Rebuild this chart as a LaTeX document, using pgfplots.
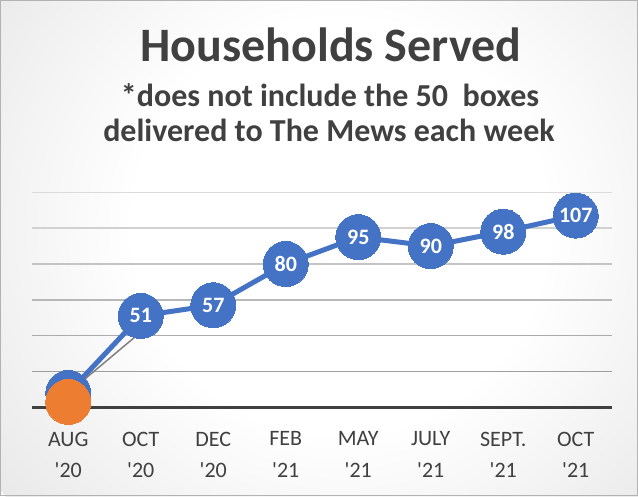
\documentclass[border=0pt]{standalone}
\usepackage{pgfplots}
\pgfplotsset{compat=1.18}
\usepackage{fontspec}
\setmainfont{Carlito}
\definecolor{txt}{HTML}{404040}
\definecolor{bl}{HTML}{4472C4}
\definecolor{orng}{HTML}{ED7D31}
\pgfdeclareradialshading{bgshade}{\pgfpoint{0bp}{0bp}}{color(0bp)=(white); color(12bp)=(white); color(50bp)=(black!25)}
\begin{document}
\begin{tikzpicture}
\useasboundingbox (0pt,0pt) rectangle (638pt,496pt);
\begin{scope}
\clip (0pt,0pt) rectangle (638pt,496pt);
\shade[shading=bgshade] (340pt,270pt) circle (430pt);
\end{scope}
\draw[black!30, line width=1.2pt] (0.6pt,0.6pt) rectangle (637.4pt,495.4pt);
\node[anchor=base, text=txt, font=\bfseries\fontsize{48}{54}\selectfont, inner sep=0pt] at (331pt,434pt) {Households Served};
\node[anchor=base, text=txt, font=\bfseries\fontsize{32}{38}\selectfont, inner sep=0pt] at (330pt,389pt) {*does not include the 50\ \ boxes};
\node[anchor=base, text=txt, font=\bfseries\fontsize{32}{38}\selectfont, inner sep=0pt] at (329pt,354pt) {delivered to The Mews each week};
\begin{axis}[
  at={(32pt,88.7pt)}, anchor=south west,
  scale only axis, width=580pt, height=215pt,
  xmin=-0.5, xmax=7.5, ymin=0, ymax=120,
  clip=false,
  axis line style={draw=none},
  /pgf/number format/assume math mode=true,
  xtick={0,1,2,3,4,5,6,7},
  xticklabels={{AUG\\\textquotesingle20},{OCT\\\textquotesingle20},{DEC\\\textquotesingle20},{FEB\\\textquotesingle21},{MAY\\\textquotesingle21},{JULY\\\textquotesingle21},{SEPT.\\\textquotesingle21},{OCT\\\textquotesingle21}},
  xticklabel style={align=center, text=txt, font=\fontsize{22}{31.5}\selectfont, yshift=-21pt},
  major tick length=0pt,
  ytick={0},
  yticklabels={},
  ymajorgrids,
  grid style={txt, line width=3pt},
]
\draw[black!14, line width=1.5pt] (axis cs:-0.5,120) -- (axis cs:7.5,120);
\draw[black!18, line width=1.5pt] (axis cs:-0.5,100) -- (axis cs:7.5,100);
\draw[black!23, line width=1.5pt] (axis cs:-0.5,80) -- (axis cs:7.5,80);
\draw[black!28, line width=1.5pt] (axis cs:-0.5,60) -- (axis cs:7.5,60);
\draw[black!33, line width=1.5pt] (axis cs:-0.5,40) -- (axis cs:7.5,40);
\draw[black!38, line width=1.5pt] (axis cs:-0.5,20) -- (axis cs:7.5,20);
\addplot[bl, line width=5pt, mark=*, mark size=22.5pt, mark options={fill=bl, draw=bl, line width=0pt}]
  coordinates {(0,8) (1,51) (2,57) (3,80) (4,95) (5,90) (6,98) (7,107)};
\addplot[only marks, mark=*, mark size=22.5pt, mark options={fill=orng, draw=orng, line width=0pt}]
  coordinates {(0,3)};
\addplot[black!50, line width=1.5pt, mark=none]
  coordinates {(0,8) (1.09,45) (1.23,45)};
\addplot[draw=none, mark=none, point meta=y, nodes near coords={\pgfmathprintnumber{\pgfplotspointmeta}},
  every node near coord/.append style={anchor=center, text=white, font=\bfseries\fontsize{22}{22}\selectfont}]
  coordinates {(1,51) (2,57) (3,80) (4,95) (5,90) (6,98) (7,107)};
\end{axis}
\end{tikzpicture}
\end{document}
